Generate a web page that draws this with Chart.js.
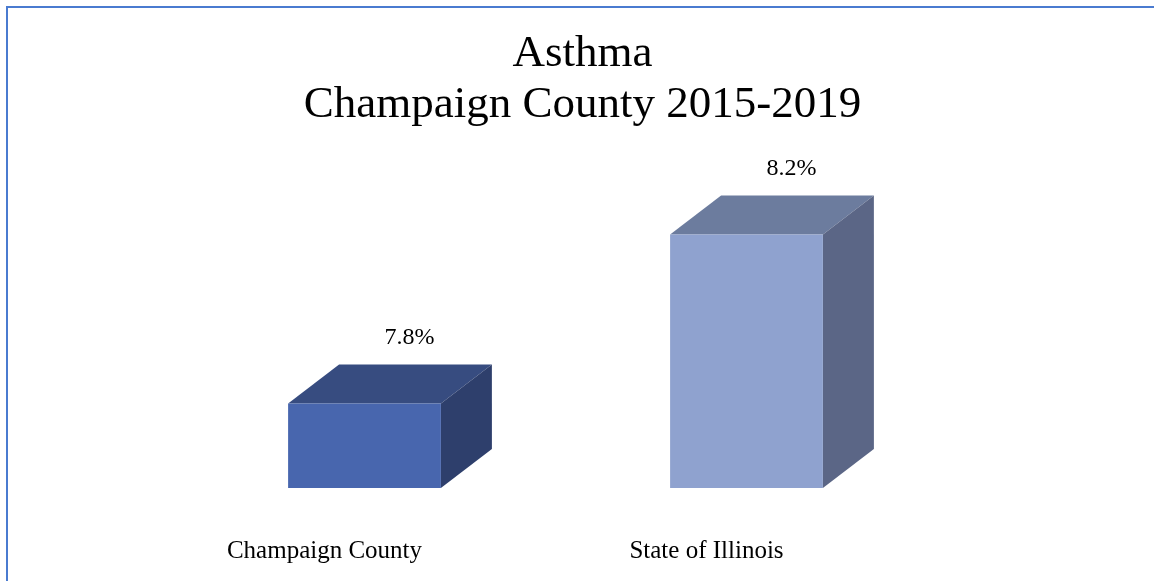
<!DOCTYPE html>
<html>
<head>
<meta charset="utf-8">
<script src="https://cdn.jsdelivr.net/npm/chart.js@4"></script>
<style>
  html, body { margin: 0; padding: 0; background: #fff; }
  #wrap { position: relative; width: 1154px; height: 581px; }
  #frame { position: absolute; left: 6px; top: 6px; right: 0; bottom: 0;
           border-left: 2px solid #4A7BD0; border-top: 2px solid #4A7BD0; pointer-events: none; }
</style>
</head>
<body>
<div id="wrap">
  <canvas id="c" width="1154" height="581"></canvas>
  <div id="frame"></div>
</div>
<script>
const titleLines = ['Asthma', 'Champaign County 2015-2019'];
const categories = ['Champaign County', 'State of Illinois'];
const values = [7.8, 8.2];
const valueLabels = ['7.8%', '8.2%'];
const axisMin = 7.6;
const axisMax = 8.4;

const frontColors = ['#4866AE', '#8FA2CF'];
const topColors = ['#374C80', '#6C7C9E'];
const sideColors = ['#2E3F6C', '#5B6686'];

const DX = 51, DY = 39;

const bar3d = {
  id: 'bar3d',
  beforeDatasetsDraw(chart) {
    const ctx = chart.ctx;
    const meta = chart.getDatasetMeta(0);
    const bottom = chart.chartArea.bottom;
    meta.data.forEach((el, i) => {
      const x0 = el.x - el.width / 2, x1 = el.x + el.width / 2;
      const y0 = el.y, yb = Math.min(el.base, bottom);
      ctx.save();
      ctx.fillStyle = topColors[i];
      ctx.beginPath();
      ctx.moveTo(x0, y0); ctx.lineTo(x1, y0);
      ctx.lineTo(x1 + DX, y0 - DY); ctx.lineTo(x0 + DX, y0 - DY);
      ctx.closePath(); ctx.fill();
      ctx.fillStyle = sideColors[i];
      ctx.beginPath();
      ctx.moveTo(x1, y0); ctx.lineTo(x1 + DX, y0 - DY);
      ctx.lineTo(x1 + DX, yb - DY); ctx.lineTo(x1, yb);
      ctx.closePath(); ctx.fill();
      ctx.restore();
    });
  },
  afterDatasetsDraw(chart) {
    const ctx = chart.ctx;
    const meta = chart.getDatasetMeta(0);
    ctx.save();
    ctx.font = '24px "Liberation Serif"';
    ctx.fillStyle = '#000';
    ctx.textAlign = 'center';
    ctx.textBaseline = 'alphabetic';
    meta.data.forEach((el, i) => {
      ctx.fillText(valueLabels[i], el.x + 45, el.y - DY - 21);
    });
    ctx.restore();
  }
};

new Chart(document.getElementById('c'), {
  type: 'bar',
  data: {
    labels: categories,
    datasets: [{
      data: values,
      backgroundColor: frontColors,
      borderWidth: 0,
      barPercentage: 0.4,
      categoryPercentage: 1.0
    }]
  },
  options: {
    responsive: false,
    animation: false,
    layout: { padding: { left: 173.5, right: 162.5, top: 0, bottom: 0 } },
    plugins: {
      legend: { display: false },
      tooltip: { enabled: false },
      title: {
        display: true,
        text: titleLines,
        color: '#000',
        font: { family: '"Liberation Serif"', size: 45, weight: 'normal', lineHeight: 1.13 },
        padding: { top: 29, bottom: 19.3 }
      }
    },
    scales: {
      x: {
        grid: { display: false },
        border: { display: false },
        ticks: {
          color: '#000',
          font: { family: '"Liberation Serif"', size: 25, lineHeight: 1.2 },
          padding: 40,
          labelOffset: -40,
          maxRotation: 0
        },
        afterFit(scale) { scale.height = 93; }
      },
      y: {
        position: 'right',
        min: axisMin,
        max: axisMax,
        grid: { display: false },
        border: { display: false },
        ticks: { display: false },
        afterFit(scale) { scale.width = 54; }
      }
    }
  },
  plugins: [bar3d]
});
</script>
</body>
</html>
